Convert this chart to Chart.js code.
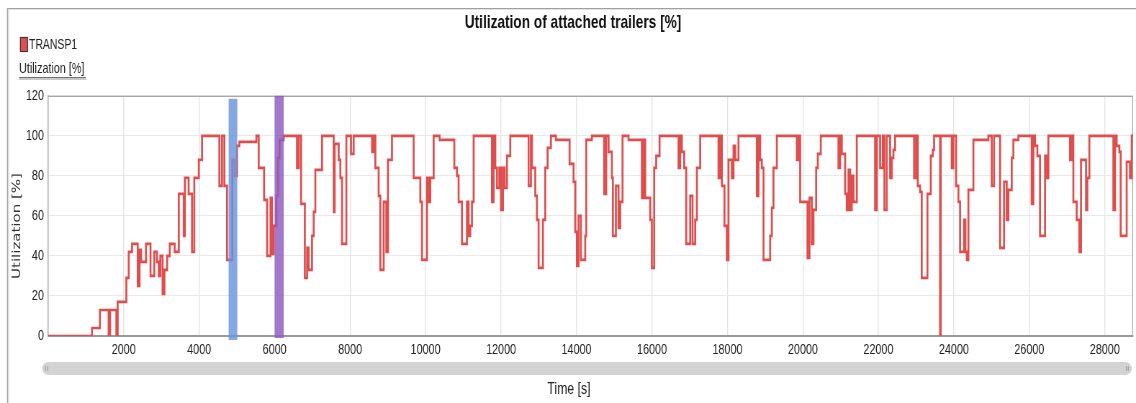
<!DOCTYPE html>
<html>
<head>
<meta charset="utf-8">
<script src="https://cdn.jsdelivr.net/npm/chart.js@4.4.1/dist/chart.umd.min.js"></script>
<style>
  html, body { margin: 0; padding: 0; background: #ffffff; }
  #wrap { position: relative; width: 1136px; height: 403px; overflow: hidden; }
  #c { display: block; transform-origin: 0 0; }
</style>
</head>
<body>
<div id="wrap"><canvas id="c"></canvas></div>
<script>
// ---- data ----
const chartTitle = "Utilization of attached trailers [%]";
const seriesName = "TRANSP1";
const yAxisLabel = "Utilization [%]";
const xAxisLabel = "Time [s]";
const xTickValues = [2000, 4000, 6000, 8000, 10000, 12000, 14000, 16000, 18000, 20000, 22000, 24000, 26000, 28000];
const yTickValues = [0, 20, 40, 60, 80, 100, 120];

const times = [
  0, 1160, 1370, 1600, 1640, 1806, 1840, 2070, 2133, 2221, 2371, 2420, 2460, 2590, 2710, 2810, 2880, 2930, 2970, 3030,
  3080, 3150, 3220, 3350, 3460, 3590, 3620, 3720, 3810, 3870, 3990, 4076, 4535, 4605, 4667, 4738, 4879, 4941, 5003, 5065,
  5515, 5577, 5720, 5800, 5890, 5930, 5975, 6045, 6090, 6130, 6240, 6592, 6640, 6700, 6800, 6860, 6900, 6990, 7034, 7078,
  7255, 7564, 7590, 7697, 7741, 7785, 7900, 8023, 8094, 8580, 8624, 8668, 8756, 8800, 8889, 8959, 9003, 9109, 9683, 9860,
  9904, 10037, 10081, 10125, 10213, 10372, 10761, 10831, 10875, 10964, 11096, 11140, 11184, 11229, 11273, 11758, 11803, 11847, 11891, 11953,
  11997, 12050, 12094, 12156, 12244, 12730, 12791, 12818, 12906, 12950, 12995, 13109, 13171, 13233, 13321, 13454, 13816, 13922, 13966, 14010,
  14054, 14116, 14230, 14257, 14407, 14734, 14787, 14849, 14937, 14963, 15043, 15113, 15158, 15219, 15378, 15732, 15776, 15820, 15952, 15996,
  16058, 16111, 16200, 16703, 16747, 16791, 16853, 16906, 17012, 17074, 17144, 17189, 17277, 17762, 17807, 17851, 17921, 17983, 18027, 18116,
  18160, 18204, 18292, 18778, 18822, 18866, 18910, 18955, 19131, 19175, 19219, 19308, 19838, 19882, 19926, 20120, 20173, 20235, 20279, 20350,
  20394, 20473, 20941, 20985, 21030, 21118, 21162, 21206, 21250, 21294, 21339, 21427, 21912, 21956, 22045, 22115, 22159, 22221, 22310, 22354,
  22398, 22442, 22945, 22998, 23042, 23104, 23148, 23299, 23387, 23440, 23475, 23634, 23652, 23943, 23987, 24058, 24120, 24164, 24270, 24305,
  24341, 24385, 24517, 24914, 25003, 25065, 25224, 25330, 25400, 25444, 25533, 25577, 25709, 26062, 26107, 26151, 26212, 26283, 26416, 26460,
  26504, 27078, 27122, 27166, 27254, 27325, 27369, 27502, 27537, 27590, 28226, 28270, 28314, 28385, 28420, 28579, 28667, 28712, 28750
];
const utilization = [
  0, 4, 13, 0, 13, 0, 17, 29, 42, 46, 25, 43, 37, 46, 30, 42, 37, 30, 40, 21,
  33, 40, 46, 42, 71, 50, 79, 71, 42, 79, 88, 100, 75, 100, 75, 38, 88, 80, 95, 97,
  100, 84, 68, 40, 69, 41, 55, 70, 89, 98, 100, 84, 100, 66, 29, 44, 33, 50, 62, 83,
  100, 62, 96, 88, 79, 46, 100, 91, 100, 92, 100, 84, 70, 33, 67, 42, 88, 100, 79, 67,
  38, 79, 67, 79, 100, 98, 84, 80, 67, 46, 67, 50, 55, 67, 100, 67, 100, 84, 74, 84,
  63, 84, 74, 90, 100, 75, 100, 84, 70, 58, 34, 58, 84, 94, 100, 98, 86, 77, 52, 35,
  60, 38, 50, 98, 100, 71, 100, 92, 79, 50, 75, 54, 67, 100, 98, 69, 98, 69, 58, 34,
  84, 90, 100, 84, 100, 92, 84, 46, 70, 46, 58, 84, 100, 79, 100, 75, 55, 38, 88, 79,
  95, 88, 100, 70, 100, 88, 84, 38, 50, 64, 84, 100, 88, 100, 67, 39, 69, 46, 63, 84,
  91, 100, 84, 100, 91, 71, 63, 83, 63, 80, 67, 100, 63, 100, 84, 100, 63, 100, 79, 89,
  93, 100, 79, 100, 75, 72, 29, 71, 90, 93, 100, 0, 100, 84, 100, 75, 67, 42, 58, 42,
  38, 73, 98, 100, 75, 100, 44, 77, 58, 73, 89, 98, 100, 66, 100, 95, 90, 50, 90, 79,
  100, 88, 100, 67, 58, 42, 88, 63, 79, 100, 63, 100, 95, 92, 50, 87, 79, 100, 100
];

// highlighted time windows [start, end] in seconds
const bandStart = [4780, 6000];
const bandEnd = [5010, 6240];
const bandTop = [118.5, 120];
const bandBottom = [-2, -1];
const bandColor = ['rgba(106,148,220,0.82)', 'rgba(142,90,192,0.82)'];

// ---- page geometry: the chart is drawn wide and shown horizontally condensed ----
const SQUEEZE = 0.72;
const CW = Math.round(1136 / SQUEEZE);
const CH = 403;
const X = (px) => px / SQUEEZE;      // screen x -> canvas x
const PAD_R = Math.round(CW - X(1133));
const PAD_L = PAD_R + 14;

const canvas = document.getElementById('c');
canvas.width = CW; canvas.height = CH;
canvas.style.width = CW + 'px'; canvas.style.height = CH + 'px';
canvas.style.transform = 'scaleX(' + (1136 / CW) + ')';

const SANS = "'Liberation Sans', Arial, sans-serif";
const LINE_RED = '#df4d4d';

const decor = {
  id: 'decor',
  beforeDatasetsDraw(chart) {
    const {ctx, chartArea: a} = chart;
    ctx.save();
    ctx.strokeStyle = '#a8a8a8';
    ctx.lineWidth = 1.3;
    ctx.beginPath();
    ctx.moveTo(a.left, a.top + 0.5); ctx.lineTo(a.right - 0.7, a.top + 0.5);
    ctx.lineTo(a.right - 0.7, a.bottom);
    ctx.stroke();
    ctx.restore();
  },
  afterDatasetsDraw(chart) {
    const {ctx} = chart;
    const xs = chart.scales.x, ys = chart.scales.y;
    ctx.save();
    for (let i = 0; i < bandStart.length; i++) {
      const x0 = xs.getPixelForValue(bandStart[i]);
      const x1 = xs.getPixelForValue(bandEnd[i]);
      const y0 = ys.getPixelForValue(bandTop[i]);
      const y1 = ys.getPixelForValue(bandBottom[i]);
      ctx.fillStyle = bandColor[i];
      ctx.fillRect(x0, y0, x1 - x0, y1 - y0);
    }
    ctx.restore();
  },
  afterDraw(chart) {
    const {ctx} = chart;
    ctx.save();
    // outer frame
    ctx.fillStyle = '#a0a0a0';
    ctx.fillRect(X(7), 8, CW, 1);
    ctx.fillRect(X(7), 8, X(1.2), CH);
    ctx.fillStyle = '#e2e2e2';
    ctx.fillRect(X(8.2), 9, CW, 1);
    ctx.fillRect(X(8.2), 9, X(1), CH);

    // legend swatch + name
    ctx.fillStyle = '#e05050';
    ctx.fillRect(X(20), 37, X(8), 15);
    ctx.strokeStyle = '#3a3a3a';
    ctx.lineWidth = 1.2;
    ctx.strokeRect(X(20) + 0.6, 37.5, X(8) - 1.2, 14);
    ctx.fillStyle = '#222';
    ctx.font = "14.5px " + SANS;
    ctx.textBaseline = 'middle';
    ctx.textAlign = 'left';
    ctx.fillText(seriesName, X(29), 45);

    // y-unit label with underline
    ctx.font = "15px " + SANS;
    ctx.fillText(yAxisLabel, X(19), 69);
    const w = ctx.measureText(yAxisLabel).width;
    ctx.fillStyle = '#707070';
    ctx.fillRect(X(19), 77, w + 2, 1);
    ctx.fillStyle = '#c8c8c8';
    ctx.fillRect(X(19), 78, w + 3, 2);

    // scrollbar
    const sx = X(42), sy = 362, sw = X(1132) - X(42), sh = 13, r = 6.5;
    ctx.fillStyle = '#d3d3d3';
    ctx.beginPath();
    ctx.ellipse(sx + X(r), sy + r, X(r), r, 0, Math.PI / 2, Math.PI * 1.5);
    ctx.lineTo(sx + sw - X(r), sy);
    ctx.ellipse(sx + sw - X(r), sy + r, X(r), r, 0, -Math.PI / 2, Math.PI / 2);
    ctx.closePath();
    ctx.fill();
    ctx.fillStyle = '#a8a8a8';
    [45, 47, 1126, 1128].forEach(gx => ctx.fillRect(X(gx), sy + 4, X(1), 5));

    // axis titles
    ctx.fillStyle = '#222';
    ctx.font = "17px " + SANS;
    ctx.textAlign = 'center';
    ctx.textBaseline = 'middle';
    ctx.fillText(xAxisLabel, X(569), 389);

    ctx.save();
    ctx.translate(X(17), 226);
    ctx.rotate(-Math.PI / 2);
    ctx.fillStyle = '#333';
    ctx.font = "15px 'DejaVu Sans', Verdana, sans-serif";
    ctx.fillText(yAxisLabel, 0, 0);
    ctx.restore();

    ctx.restore();
  }
};

new Chart(canvas, {
  type: 'line',
  data: {
    datasets: [{
      label: seriesName,
      data: times.map((t, i) => ({x: t, y: utilization[i]})),
      stepped: true,
      borderColor: LINE_RED,
      backgroundColor: LINE_RED,
      borderWidth: 2.7,
      pointRadius: 0,
      fill: false
    }]
  },
  options: {
    responsive: false,
    animation: false,
    devicePixelRatio: 1,
    layout: { padding: { left: PAD_L, right: PAD_R, top: 0, bottom: 0 } },
    plugins: {
      legend: { display: false },
      tooltip: { enabled: false },
      title: {
        display: true,
        text: chartTitle,
        color: '#111',
        font: { family: SANS, size: 19, weight: 'bold' },
        padding: { top: 11, bottom: 62 }
      }
    },
    scales: {
      x: {
        type: 'linear',
        min: 0,
        max: 28750,
        afterFit(scale) { scale.height = 67; },
        afterBuildTicks(scale) { scale.ticks = [0].concat(xTickValues).map(v => ({value: v})); },
        ticks: {
          autoSkip: false,
          maxRotation: 0,
          padding: 5,
          color: '#222',
          font: { family: SANS, size: 15 },
          callback: (v) => (xTickValues.includes(v) ? String(v) : '')
        },
        grid: { color: '#e3e3e3', lineWidth: 1.4, drawTicks: false },
        border: { color: '#9a9a9a', width: 2 },
        title: { display: false, text: xAxisLabel }
      },
      y: {
        min: 0,
        max: 120,
        afterFit(scale) { scale.width = Math.round(X(48)) - PAD_L; },
        afterBuildTicks(scale) { scale.ticks = yTickValues.map(v => ({value: v})); },
        ticks: {
          padding: 6,
          color: '#222',
          font: { family: SANS, size: 15 },
          callback: (v) => String(v)
        },
        grid: { color: '#e8e8e8', lineWidth: 1, drawTicks: false },
        border: { color: '#a8a8a8', width: 1.4 },
        title: { display: false, text: yAxisLabel }
      }
    }
  },
  plugins: [decor]
});
</script>
</body>
</html>
